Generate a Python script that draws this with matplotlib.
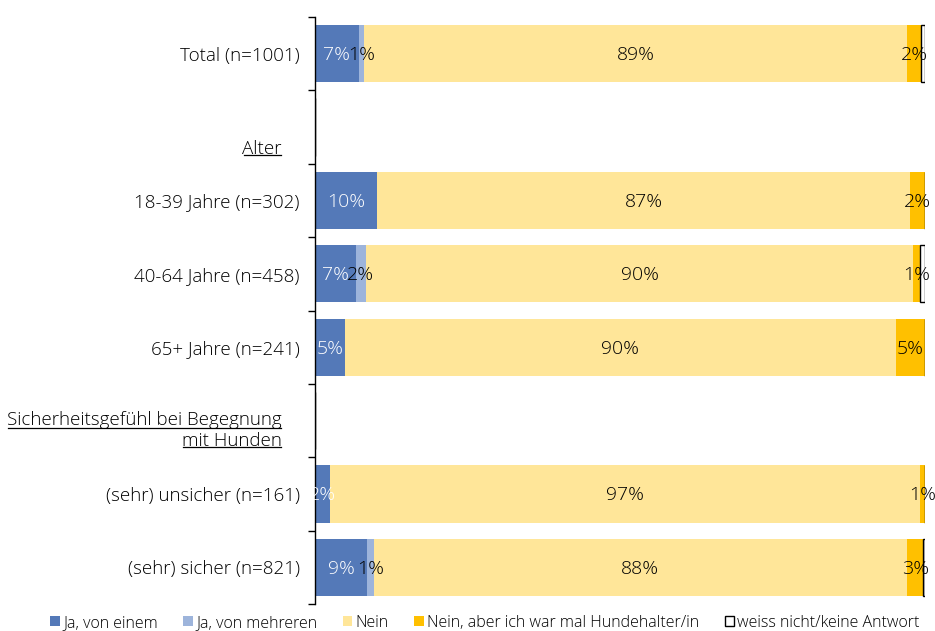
import matplotlib
matplotlib.use("Agg")
import matplotlib.pyplot as plt
import numpy as np

plt.rcParams['font.family'] = ['Open Sans', 'DejaVu Sans']
plt.rcParams['font.weight'] = 'light'

# rows from top to bottom; header rows have no bars
rows = ["Total (n=1001)", "Alter", "18-39 Jahre (n=302)", "40-64 Jahre (n=458)",
        "65+ Jahre (n=241)", "Sicherheitsgefühl bei Begegnung\nmit Hunden",
        "(sehr) unsicher (n=161)", "(sehr) sicher (n=821)"]
is_header = [False, True, False, False, False, True, False, False]

series = ["Ja, von einem", "Ja, von mehreren", "Nein",
          "Nein, aber ich war mal Hundehalter/in", "weiss nicht/keine Antwort"]
ja_einem    = [7.2, 0, 10.2, 6.7, 4.9, 0, 2.4, 8.6]
ja_mehreren = [0.8, 0, 0.0, 1.6, 0.0, 0, 0.0, 1.0]
nein        = [89.1, 0, 87.4, 89.8, 90.3, 0, 96.7, 87.5]
nein_halter = [2.3, 0, 2.4, 1.1, 4.8, 0, 0.9, 2.6]
weiss_nicht = [0.6, 0, 0.0, 0.8, 0.0, 0, 0.0, 0.3]

colors = ["#5479B8", "#9DB4DB", "#FFE699", "#FFC000", "#FFFFFF"]
label_colors = ["white", "black", "black", "black", None]

fig = plt.figure(figsize=(9.35, 6.31), dpi=100)
ax = fig.add_axes([315/935, 1 - 604/631, 610/935, 587/631])

y = np.arange(len(rows))
data = [ja_einem, ja_mehreren, nein, nein_halter, weiss_nicht]
left = np.zeros(len(rows))
for vals, col, lc, name in zip(data, colors, label_colors, series):
    vals = np.array(vals)
    ec = "black" if col == "#FFFFFF" else col
    lw = 1.0 if col == "#FFFFFF" else 0
    ax.barh(y, vals, left=left, height=0.78, color=col, edgecolor=ec,
            linewidth=lw, label=name)
    if lc is not None:
        for yi, (l, v) in enumerate(zip(left, vals)):
            if v >= 0.5:
                ax.text(l + v / 2, yi + 0.02, f"{v:.0f}%", ha="center", va="center",
                        fontsize=14, color=lc)
    left += vals

ax.set_xlim(0, 100)
ax.set_ylim(len(rows) - 0.5, -0.5)
ax.set_xticks([])
for s in ["top", "right", "bottom"]:
    ax.spines[s].set_visible(False)
ax.spines["left"].set_linewidth(1.0)

ax.set_yticks(np.arange(-0.5, len(rows)), labels=[])
ax.tick_params(axis="y", which="major", length=5, width=1)
ax.set_yticks(y, minor=True)
ax.set_yticklabels([r if not h else "" for r, h in zip(rows, is_header)],
                   minor=True, fontsize=13.5)
ax.tick_params(axis="y", which="minor", length=0, pad=11)

# underlined group headers, right edge at x=282px
header_texts = []
hx = (282 - 315) / 610
for yi, (r, h) in enumerate(zip(rows, is_header)):
    if h:
        off = 0.3 if "\n" not in r else 0.14
        t = ax.text(hx, yi + off, r, transform=ax.get_yaxis_transform(),
                    ha="right", va="center", fontsize=13.5, multialignment="right",
                    linespacing=1.2)
        header_texts.append(t)

fig.canvas.draw()
renderer = fig.canvas.get_renderer()
for t in header_texts:
    lines = t.get_text().split("\n")
    bb = t.get_window_extent(renderer)
    n = len(lines)
    lh = bb.height / n
    for i, line in enumerate(lines):
        tmp = fig.text(0, 0, line, fontsize=13.5)
        w = tmp.get_window_extent(renderer).width
        tmp.remove()
        ybase = bb.y1 - (i + 1) * lh + 3
        fig.add_artist(plt.Line2D([(bb.x1 - w + 1) / 935, (bb.x1 - 1) / 935],
                                  [ybase / 631, ybase / 631],
                                  color="black", linewidth=0.9))

fig.legend(loc="center", bbox_to_anchor=(485/935, 1 - 623/631), ncol=5,
           frameon=False, fontsize=11.5, handlelength=0.6, handleheight=0.6,
           handletextpad=0.2, columnspacing=1.6)

fig.savefig("out.png", dpi=100)
